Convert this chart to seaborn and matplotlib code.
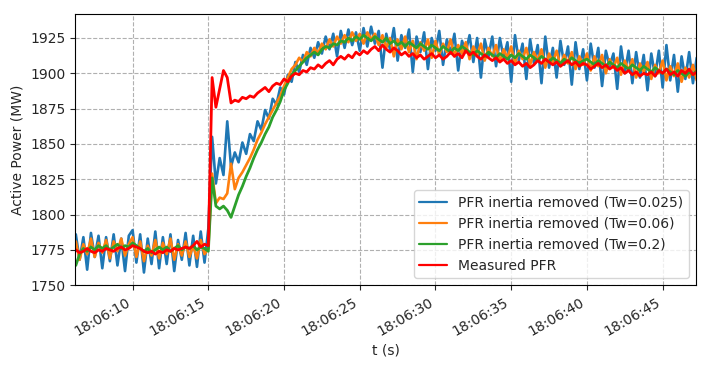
import numpy as np
import pandas as pd
import matplotlib
matplotlib.use("Agg")
import matplotlib.pyplot as plt
import matplotlib.dates as mdates
import seaborn as sns

# samples every 0.25 s starting at 18:06:06.00 (8 values = 2 s per row)
t_start = "2020-01-01 18:06:06"
n_pts = 168

pfr_tw0025 = [
    1763, 1786, 1768, 1784, 1761, 1787, 1770, 1785,
    1762, 1784, 1767, 1786, 1764, 1783, 1760, 1785,
    1789, 1766, 1786, 1759, 1783, 1765, 1788, 1762,
    1784, 1765, 1786, 1760, 1782, 1768, 1787, 1764,
    1785, 1763, 1788, 1766, 1790, 1855, 1822, 1840,
    1828, 1866, 1834, 1844, 1837, 1851, 1843, 1857,
    1852, 1866, 1860, 1874, 1868, 1882, 1878, 1890,
    1885, 1899, 1894, 1908, 1901, 1913, 1906, 1918,
    1911, 1922, 1914, 1926, 1917, 1928, 1912, 1930,
    1918, 1931, 1920, 1929, 1916, 1932, 1919, 1933,
    1921, 1930, 1904, 1928, 1917, 1932, 1909, 1927,
    1918, 1931, 1901, 1926, 1915, 1929, 1903, 1925,
    1916, 1930, 1906, 1924, 1914, 1928, 1902, 1923,
    1915, 1927, 1908, 1925, 1897, 1924, 1912, 1926,
    1905, 1925, 1911, 1922, 1894, 1927, 1909, 1921,
    1896, 1924, 1907, 1920, 1893, 1926, 1904, 1918,
    1897, 1923, 1906, 1919, 1892, 1922, 1903, 1917,
    1895, 1921, 1904, 1918, 1891, 1916, 1905, 1914,
    1889, 1919, 1900, 1916, 1893, 1915, 1897, 1913,
    1888, 1914, 1898, 1916, 1890, 1920, 1895, 1913,
    1887, 1912, 1896, 1915, 1893, 1911, 1898, 1905,
]

pfr_tw006 = [
    1770, 1781, 1768, 1779, 1772, 1783, 1770, 1780,
    1773, 1782, 1769, 1781, 1774, 1783, 1771, 1779,
    1784, 1770, 1781, 1767, 1778, 1771, 1782, 1769,
    1780, 1772, 1783, 1768, 1779, 1771, 1781, 1770,
    1778, 1769, 1782, 1772, 1776, 1829, 1808, 1812,
    1811, 1815, 1836, 1818, 1826, 1830, 1835, 1840,
    1846, 1853, 1858, 1864, 1869, 1874, 1879, 1884,
    1891, 1897, 1903, 1906, 1911, 1908, 1915, 1912,
    1918, 1914, 1921, 1917, 1924, 1919, 1926, 1921,
    1927, 1922, 1929, 1923, 1928, 1921, 1929, 1924,
    1928, 1920, 1927, 1918, 1925, 1912, 1924, 1917,
    1926, 1915, 1923, 1910, 1922, 1916, 1924, 1911,
    1923, 1913, 1921, 1915, 1924, 1912, 1920, 1914,
    1922, 1910, 1919, 1913, 1921, 1909, 1918, 1912,
    1920, 1908, 1917, 1911, 1919, 1907, 1916, 1910,
    1918, 1906, 1915, 1909, 1917, 1904, 1914, 1908,
    1916, 1905, 1913, 1907, 1915, 1903, 1912, 1906,
    1914, 1902, 1912, 1905, 1913, 1900, 1910, 1904,
    1911, 1899, 1909, 1902, 1910, 1897, 1907, 1901,
    1908, 1896, 1906, 1900, 1909, 1895, 1905, 1898,
    1907, 1894, 1904, 1897, 1906, 1895, 1903, 1899,
]

pfr_tw02 = [
    1768, 1764, 1772, 1776, 1774, 1777, 1775, 1778,
    1776, 1778, 1775, 1777, 1779, 1776, 1778, 1777,
    1780, 1778, 1776, 1774, 1776, 1773, 1775, 1777,
    1775, 1777, 1774, 1776, 1778, 1775, 1777, 1776,
    1778, 1775, 1777, 1776, 1774, 1826, 1806, 1804,
    1806, 1803, 1798, 1806, 1814, 1820, 1827, 1833,
    1840, 1846, 1851, 1857, 1862, 1869, 1874, 1880,
    1888, 1893, 1899, 1902, 1905, 1908, 1911, 1913,
    1915, 1913, 1917, 1919, 1918, 1921, 1920, 1923,
    1922, 1925, 1923, 1926, 1924, 1927, 1925, 1923,
    1926, 1924, 1922, 1925, 1921, 1923, 1920, 1922,
    1919, 1922, 1920, 1918, 1921, 1919, 1917, 1920,
    1918, 1916, 1919, 1917, 1915, 1918, 1916, 1919,
    1917, 1915, 1913, 1916, 1914, 1912, 1915, 1913,
    1911, 1914, 1912, 1910, 1913, 1911, 1914, 1912,
    1910, 1913, 1911, 1909, 1912, 1910, 1908, 1911,
    1909, 1907, 1910, 1908, 1911, 1909, 1907, 1909,
    1910, 1908, 1906, 1909, 1907, 1905, 1908, 1906,
    1904, 1907, 1905, 1903, 1906, 1904, 1902, 1905,
    1903, 1901, 1904, 1902, 1900, 1903, 1901, 1899,
    1902, 1900, 1898, 1901, 1899, 1902, 1900, 1901,
]

measured = [
    1774, 1775, 1773, 1774, 1776, 1774, 1773, 1775,
    1774, 1776, 1775, 1774, 1776, 1777, 1775, 1776,
    1778, 1777, 1776, 1774, 1773, 1774, 1772, 1774,
    1773, 1775, 1774, 1776, 1775, 1776, 1777, 1776,
    1778, 1781, 1777, 1779, 1778, 1897, 1876, 1889,
    1902, 1897, 1879, 1881, 1880, 1883, 1882, 1884,
    1883, 1886, 1888, 1890, 1887, 1891, 1893, 1892,
    1896, 1894, 1898, 1900, 1899, 1902, 1901, 1904,
    1903, 1906, 1904, 1907, 1909, 1906, 1910, 1912,
    1910, 1913, 1911, 1915, 1913, 1916, 1914, 1917,
    1919, 1916, 1920, 1917, 1915, 1918, 1916, 1913,
    1915, 1912, 1914, 1911, 1913, 1910, 1912, 1914,
    1911, 1913, 1910, 1912, 1915, 1912, 1914, 1911,
    1916, 1913, 1915, 1912, 1910, 1913, 1911, 1909,
    1911, 1908, 1910, 1907, 1909, 1906, 1908, 1905,
    1907, 1904, 1906, 1909, 1907, 1910, 1908, 1906,
    1908, 1905, 1907, 1909, 1906, 1908, 1905, 1907,
    1906, 1903, 1905, 1907, 1904, 1906, 1903, 1905,
    1902, 1904, 1900, 1902, 1899, 1901, 1898, 1900,
    1899, 1901, 1898, 1902, 1900, 1903, 1899, 1901,
    1898, 1902, 1900, 1903, 1899, 1901, 1900, 1902,
]

labels = ["PFR inertia removed (Tw=0.025)", "PFR inertia removed (Tw=0.06)",
          "PFR inertia removed (Tw=0.2)", "Measured PFR"]
colors = ["#1f77b4", "#ff7f0e", "#2ca02c", "red"]
widths = [1.9, 1.9, 2.0, 2.0]

t = pd.date_range(t_start, periods=n_pts, freq="250ms")

sns.set_style("ticks", {"axes.grid": True, "grid.linestyle": "--",
                        "grid.color": "#b0b0b0", "axes.edgecolor": "black"})
plt.rcParams['font.family'] = ['DejaVu Sans']

fig, ax = plt.subplots(figsize=(7.08, 3.68), dpi=100)

series = [pfr_tw0025, pfr_tw006, pfr_tw02, measured]
for vals, lab, col, lw in zip(series, labels, colors, widths):
    sns.lineplot(x=t, y=np.array(vals), ax=ax, color=col, label=lab, linewidth=lw)

ax.set_xlim(pd.Timestamp("2020-01-01 18:06:06.2"), pd.Timestamp("2020-01-01 18:06:47.2"))
ax.set_ylim(1750, 1942)
ax.set_yticks(np.arange(1750, 1926, 25))
ax.xaxis.set_major_locator(mdates.SecondLocator(bysecond=range(0, 60, 5)))
ax.xaxis.set_major_formatter(mdates.DateFormatter("%H:%M:%S"))
ax.set_xlabel("t (s)")
ax.set_ylabel("Active Power (MW)")
ax.grid(True, linestyle="--", color="#b0b0b0", linewidth=0.8)
ax.tick_params(labelsize=10)
for s in ax.spines.values():
    s.set_color("black")

leg = ax.legend(loc="lower right", fontsize=10, frameon=True)
for line in leg.get_lines():
    line.set_linewidth(1.6)

fig.autofmt_xdate()
fig.subplots_adjust(left=0.106, right=0.983, top=0.962, bottom=0.225)
fig.savefig("out.png", dpi=100)
